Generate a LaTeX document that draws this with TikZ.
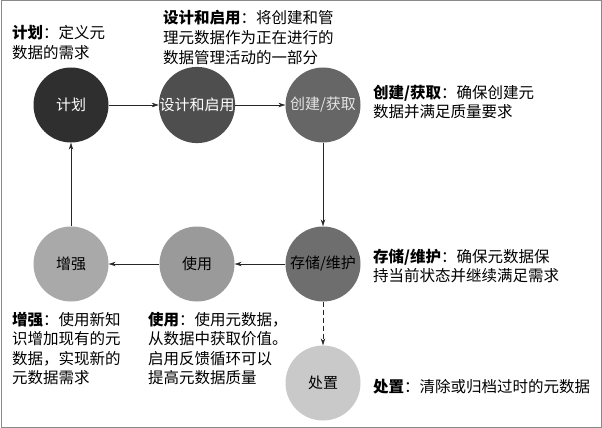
\documentclass[tikz,border=0pt]{standalone}
\usepackage{fontspec}
\setmainfont{Noto Sans CJK SC}
\usetikzlibrary{arrows.meta}
\definecolor{cA}{HTML}{2F2F2F}
\definecolor{cB}{HTML}{4E4E4E}
\definecolor{cC}{HTML}{666666}
\definecolor{cD}{HTML}{6E6E6E}
\definecolor{cE}{HTML}{9A9A9A}
\definecolor{cF}{HTML}{A9A9A9}
\definecolor{cG}{HTML}{C9C9C9}
\definecolor{frame}{HTML}{8A8A8A}
\tikzset{
  stage/.style={circle, minimum size=75pt, inner sep=0pt, font=\fontsize{15}{16}\selectfont},
  desc/.style={anchor=north west, align=left, inner sep=0pt, font=\fontsize{15.5}{19.6}\selectfont},
  flow/.style={draw=black!85, line width=0.6pt, -{Stealth[length=7pt,width=4.5pt]}},
}
\newcommand{\hd}[1]{\textbf{#1}}
\begin{document}
\begin{tikzpicture}[x=1pt,y=-1pt]
\useasboundingbox (0,0) rectangle (602,428);
\fill[white] (0,0) rectangle (602,428);
\draw[frame, line width=1pt] (1,1) rectangle (601,427);

\node[stage, fill=cA, text=white] (plan) at (71,105) {计划};
\node[stage, fill=cB, text=white] (design) at (197,105) {设计和启用};
\node[stage, fill=cC, text=white!90!black] (create) at (323,105) {创建/获取};
\node[stage, fill=cD, text=black] (store) at (323,264) {存储/维护};
\node[stage, fill=cE, text=black] (use) at (197,264) {使用};
\node[stage, fill=cF, text=black] (enhance) at (71,264) {增强};
\node[stage, fill=cG, text=black] (dispose) at (323,383) {处置};

\draw[flow] (plan) -- (design);
\draw[flow] (design) -- (create);
\draw[flow] (create) -- (store);
\draw[flow] (store) -- (use);
\draw[flow] (use) -- (enhance);
\draw[flow] (enhance) -- (plan);
\draw[flow, dash pattern=on 5pt off 3pt] (store) -- (dispose);

\node[desc] (dplan) at (12,25.5) {\hd{计划}：定义元\\数据的需求};
\node[desc] (ddesign) at (163,10.5) {\hd{设计和启用}：将创建和管\\理元数据作为正在进行的\\数据管理活动的一部分};
\node[desc] (dcreate) at (373,84.5) {\hd{创建/获取}：确保创建元\\数据并满足质量要求};
\node[desc] (dstore) at (373,248.5) {\hd{存储/维护}：确保元数据保\\持当前状态并继续满足需求};
\node[desc] (denh) at (12,311.5) {\hd{增强}：使用新知\\识增加现有的元\\数据，实现新的\\元数据需求};
\node[desc] (duse) at (148,311.5) {\hd{使用}：使用元数据，\\从数据中获取价值。\\启用反馈循环可以\\提高元数据质量};
\node[desc] (ddisp) at (373,379.5) {\hd{处置}：清除或归档过时的元数据};
\end{tikzpicture}
\end{document}
